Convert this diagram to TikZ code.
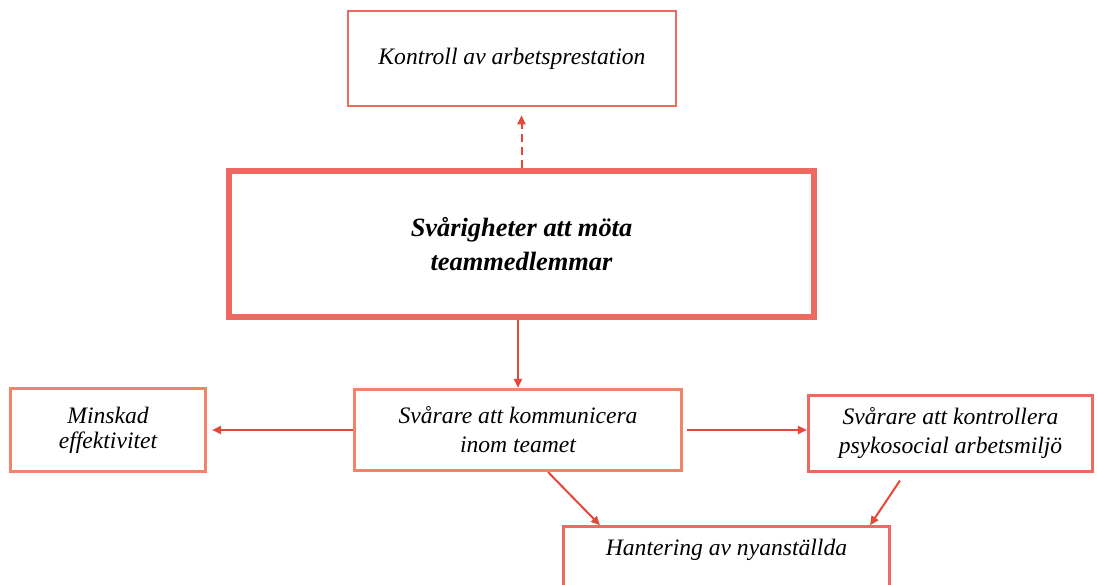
\documentclass[tikz,border=0pt]{standalone}
\usepackage{fontspec}
\setmainfont{Liberation Serif}
\usetikzlibrary{positioning,arrows.meta}

\definecolor{boxred}{HTML}{EE6A60}
\definecolor{boxorange}{HTML}{F28468}
\definecolor{linkred}{HTML}{E5483B}

\begin{document}
\begin{tikzpicture}[
  x=0.5pt, y=-0.5pt,
  box/.style={draw=boxred, line width=1.3pt, align=center, inner sep=3pt,
              font=\fontsize{11.8}{14.5}\selectfont\itshape},
  softbox/.style={box, draw=boxorange},
  mainbox/.style={box, line width=3pt,
                  font=\fontsize{13.2}{17}\selectfont\bfseries\itshape},
  link/.style={-{Triangle[length=4.5pt, width=4pt]}, line width=1pt, linkred},
]
  \useasboundingbox (0,0) rectangle (1097,584);
  \clip (0,0) rectangle (1097,584);

  \node[box, minimum width=164pt, minimum height=47.5pt] (kontroll) at (512,58.5)
    {Kontroll av arbetsprestation};
  \node[mainbox, minimum width=292.5pt, minimum height=73pt] (main) at (521.5,244)
    {Svårigheter att möta\\ teammedlemmar};
  \node[softbox, minimum width=163.75pt, minimum height=40.75pt] (komm) at (518,430)
    {Svårare att kommunicera\\ inom teamet};
  \node[softbox, minimum width=97.75pt, minimum height=41.75pt,
        font=\fontsize{11.8}{12.5}\selectfont\itshape] (minsk) at (108,430)
    {Minskad\\ effektivitet};
  \node[box, minimum width=142.25pt, minimum height=38.25pt] (kontr) at (950.5,433.5)
    {Svårare att kontrollera\\ psykosocial arbetsmiljö};
  \node[box, anchor=north, minimum width=163.25pt, text height=11pt,
        text depth=40pt, inner ysep=3.5pt] (hant) at (726.5,525.25)
    {Hantering av nyanställda};

  % links
  \draw[link, dashed, dash pattern=on 4pt off 2.5pt, shorten >=4pt]
    (main.north) -- (main.north |- kontroll.south);
  \draw[link] (main.south -| komm.north) -- (komm.north);
  \draw[link, shorten >=2.5pt] (komm.west) -- (minsk.east);
  \draw[link, shorten <=2pt] (komm.east) -- (komm.east -| kontr.west);
  \draw[link] ([xshift=15pt]komm.south) -- ([xshift=-63.25pt]hant.north);
  \draw[link, shorten <=4.5pt] ([xshift=-22.75pt]kontr.south) -- ([xshift=-10.5pt]hant.north east);
\end{tikzpicture}
\end{document}
